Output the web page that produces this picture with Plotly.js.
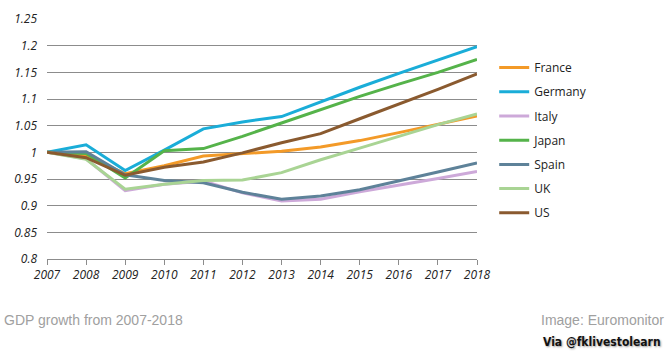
<!DOCTYPE html>
<html>
<head>
<meta charset="utf-8">
<script src="https://cdn.plot.ly/plotly-3.0.1.min.js"></script>
<style>html,body{margin:0;padding:0;background:#fff;}#chart{width:670px;height:353px;}</style>
</head>
<body>
<div id="chart"></div>
<script>
var years = [2007, 2008, 2009, 2010, 2011, 2012, 2013, 2014, 2015, 2016, 2017, 2018];
var countries = ["France", "Germany", "Italy", "Japan", "Spain", "UK", "US"];
var france  = [1.000, 0.993, 0.960, 0.975, 0.993, 0.998, 1.002, 1.010, 1.022, 1.037, 1.052, 1.068];
var germany = [1.000, 1.014, 0.966, 1.004, 1.044, 1.057, 1.067, 1.095, 1.122, 1.148, 1.173, 1.198];
var italy   = [1.000, 0.988, 0.928, 0.940, 0.946, 0.924, 0.909, 0.912, 0.926, 0.938, 0.951, 0.964];
var japan   = [1.000, 0.998, 0.952, 1.003, 1.007, 1.030, 1.055, 1.080, 1.105, 1.128, 1.150, 1.174];
var spain   = [1.000, 1.001, 0.958, 0.947, 0.943, 0.925, 0.912, 0.918, 0.930, 0.946, 0.963, 0.980];
var uk      = [1.000, 0.987, 0.931, 0.940, 0.947, 0.948, 0.962, 0.986, 1.008, 1.030, 1.052, 1.072];
var us      = [1.000, 0.990, 0.957, 0.972, 0.982, 0.999, 1.018, 1.035, 1.063, 1.090, 1.118, 1.147];
var yTicks = [0.8, 0.85, 0.9, 0.95, 1, 1.05, 1.1, 1.15, 1.2, 1.25];
var yTickText = ["0.8", "0.85", "0.9", "0.95", "1", "1.05", "1.1", "1.15", "1.2", "1.25"];
var colors = ["#F39A28", "#1AADD8", "#CDA9D9", "#55B34A", "#5E8299", "#A9D494", "#8A5A2F"];
var caption = "GDP growth from 2007-2018";
var source = "Image: Euromonitor";
var via = "Via @fklivestolearn";

var series = [france, germany, italy, japan, spain, uk, us];
var traces = series.map(function (vals, i) {
  return {
    x: years, y: vals, name: countries[i], type: "scatter", mode: "lines",
    legendgroup: "g" + i,
    line: {color: colors[i], width: 3}
  };
});

var tickFont = {family: "Open Sans, DejaVu Sans, sans-serif", size: 12, color: "#222", style: "italic"};

var layout = {
  width: 670, height: 353,
  margin: {l: 47, r: 193, t: 19, b: 94},
  paper_bgcolor: "#ffffff", plot_bgcolor: "#ffffff",
  showlegend: true,
  legend: {
    x: 1.04, xanchor: "left", y: 0.858, yanchor: "top",
    tracegroupgap: 5.2,
    font: {family: "Open Sans, DejaVu Sans, sans-serif", size: 12, color: "#222"},
    bgcolor: "rgba(0,0,0,0)"
  },
  xaxis: {
    range: [2007, 2018], tickmode: "array", tickvals: years,
    showgrid: false, zeroline: false,
    showline: true, linecolor: "#8c8c8c", linewidth: 1,
    ticks: "outside", ticklen: 5, tickcolor: "#8c8c8c",
    tickfont: tickFont
  },
  yaxis: {
    range: [0.8, 1.25], tickmode: "array", tickvals: yTicks, ticktext: yTickText,
    showgrid: true, gridcolor: "#8c8c8c", gridwidth: 1,
    zeroline: false, showline: false, ticks: "", ticklabelstandoff: 9,
    tickfont: tickFont
  },
  annotations: [
    {text: caption, xref: "paper", yref: "paper", x: -0.104, y: -0.255, xanchor: "left", yanchor: "middle",
     showarrow: false, font: {family: "Liberation Sans, Arial, sans-serif", size: 14, color: "#a0a0a0"}},
    {text: source, xref: "paper", yref: "paper", x: 1.44, y: -0.255, xanchor: "right", yanchor: "middle",
     showarrow: false, font: {family: "Liberation Sans, Arial, sans-serif", size: 14, color: "#a0a0a0"}},
    {text: "<b>" + via + "</b>", xref: "paper", yref: "paper", x: 1.432, y: -0.345, xanchor: "right", yanchor: "middle",
     showarrow: false, font: {family: "DejaVu Sans Condensed, Roboto, sans-serif", size: 12, color: "#111",
     shadow: "1px 1px 2px #999"}}
  ]
};

Plotly.newPlot("chart", traces, layout, {displayModeBar: false, staticPlot: true});
</script>
</body>
</html>
